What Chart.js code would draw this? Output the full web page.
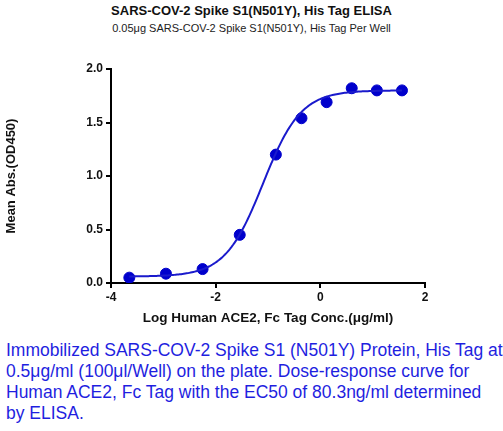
<!DOCTYPE html>
<html><head><meta charset="utf-8">
<script src="https://cdn.jsdelivr.net/npm/chart.js@4/dist/chart.umd.min.js"></script>
<style>
body{margin:0;background:#fff;width:503px;height:431px;overflow:hidden;font-family:Arial,"Liberation Sans",sans-serif;position:relative}
#t1{position:absolute;top:3px;left:0;width:503px;text-align:center;font-weight:bold;font-size:13px;color:#111}
#t2{position:absolute;top:22px;left:0;width:503px;text-align:center;font-size:11px;color:#222}
#c{position:absolute;top:0;left:0}
#p{position:absolute;top:340px;left:6px;width:497px;color:#1f1fe0;font-size:17.5px;line-height:21px}
</style></head><body>
<div id="t1">SARS-COV-2 Spike S1(N501Y), His Tag ELISA</div>
<div id="t2">0.05μg SARS-COV-2 Spike S1(N501Y), His Tag Per Well</div>
<canvas id="c" width="503" height="330"></canvas>
<div id="p">Immobilized SARS-COV-2 Spike S1 (N501Y) Protein, His Tag at 0.5μg/ml (100μl/Well) on the plate. Dose-response curve for Human ACE2, Fc Tag with the EC50 of 80.3ng/ml determined by ELISA.</div>
<script>
const logConc = [-3.65,-2.95,-2.25,-1.54,-0.85,-0.36,0.12,0.60,1.08,1.56];
const absValues = [0.05,0.087,0.13,0.45,1.20,1.54,1.69,1.82,1.80,1.80];
const fitParams = [0.06,1.80,-1.095,1.2]; // bottom, top, logEC50, hill
const xTicks = [-4,-2,0,2];
const yTicks = [0,0.5,1.0,1.5,2.0];
const curve=[];
for(let i=0;i<=200;i++){const x=-3.65+(1.56+3.65)*i/200;
 curve.push({x,y:fitParams[0]+(fitParams[1]-fitParams[0])/(1+Math.pow(10,(fitParams[2]-x)*fitParams[3]))});}
const col='#1a1acc';
new Chart(document.getElementById('c'),{
 type:'scatter',
 data:{datasets:[
  {data:curve,showLine:true,pointRadius:0,borderColor:col,borderWidth:2,tension:0},
  {data:logConc.map((x,i)=>({x,y:absValues[i]})),pointRadius:5.5,backgroundColor:'#0000cc',borderColor:'#0000cc'}
 ]},
 options:{animation:false,responsive:false,
  layout:{padding:{top:69,right:78,left:0,bottom:0}},
  plugins:{legend:{display:false},tooltip:{enabled:false}},
  scales:{
   x:{type:'linear',min:-4,max:2,afterBuildTicks:s=>{s.ticks=xTicks.map(v=>({value:v}))},
     border:{color:'#000',width:2},grid:{drawOnChartArea:false,color:'#000',tickLength:5,lineWidth:2},
     ticks:{color:'#111',font:{size:12,weight:'bold'},padding:2},
     title:{display:true,text:'Log Human ACE2, Fc Tag Conc.(μg/ml)',color:'#111',font:{size:13.5,weight:'bold'},padding:{top:2}},
     afterFit:s=>{s.height=47}},
   y:{min:0,max:2,afterBuildTicks:s=>{s.ticks=yTicks.map(v=>({value:v}))},
     border:{color:'#000',width:2},grid:{drawOnChartArea:false,color:'#000',tickLength:5,lineWidth:2},
     ticks:{color:'#111',font:{size:12,weight:'bold'},callback:v=>v.toFixed(1),padding:3},
     title:{display:true,text:'Mean Abs.(OD450)',color:'#111',font:{size:13,weight:'bold'}},
     afterFit:s=>{s.width=111}}
  }}
});
</script></body></html>
